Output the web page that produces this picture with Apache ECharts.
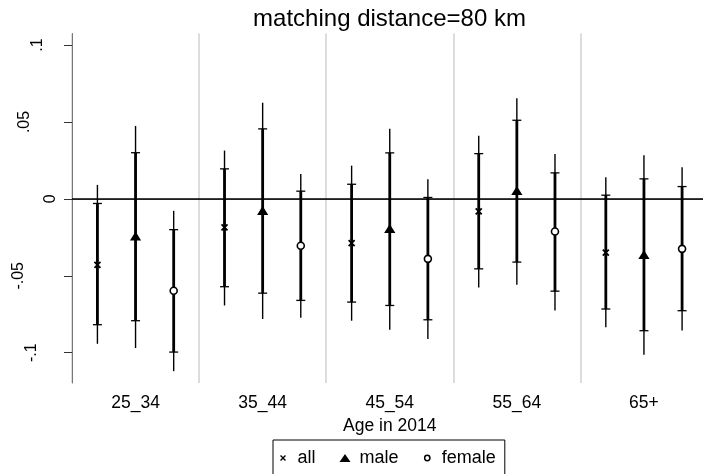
<!DOCTYPE html>
<html><head><meta charset="utf-8">
<script src="https://cdn.jsdelivr.net/npm/echarts@6/dist/echarts.min.js"></script>
<style>html,body{margin:0;padding:0;background:#fff}#c{width:703px;height:474px}</style>
</head><body><div id="c"></div>
<script>
// ---- data ----
const categories = ['25_34', '35_44', '45_54', '55_64', '65+'];
const groupNames = ['all', 'male', 'female'];

const allEst  = [-0.0429, -0.0186, -0.0288, -0.0082, -0.0349];
const allLo90 = [-0.0818, -0.0571, -0.0671, -0.0455, -0.0716];
const allHi90 = [-0.0030,  0.0195,  0.0095,  0.0294,  0.0024];
const allLo95 = [-0.0942, -0.0693, -0.0792, -0.0576, -0.0835];
const allHi95 = [ 0.0091,  0.0314,  0.0216,  0.0411,  0.0141];

const maleEst  = [-0.0243, -0.0078, -0.0195,  0.0052, -0.0364];
const maleLo90 = [-0.0792, -0.0613, -0.0693, -0.0411, -0.0857];
const maleHi90 = [ 0.0300,  0.0455,  0.0299,  0.0511,  0.0130];
const maleLo95 = [-0.0970, -0.0781, -0.0851, -0.0558, -0.1013];
const maleHi95 = [ 0.0474,  0.0625,  0.0455,  0.0654,  0.0284];

const femaleEst  = [-0.0597, -0.0305, -0.0390, -0.0212, -0.0325];
const femaleLo90 = [-0.0996, -0.0660, -0.0786, -0.0600, -0.0727];
const femaleHi90 = [-0.0200,  0.0050,  0.0009,  0.0169,  0.0080];
const femaleLo95 = [-0.1120, -0.0773, -0.0911, -0.0725, -0.0855];
const femaleHi95 = [-0.0078,  0.0162,  0.0128,  0.0292,  0.0206];

const yTickValues = [-0.1, -0.05, 0, 0.05, 0.1];
const yTickLabels = ['-.1', '-.05', '0', '.05', '.1'];
const titleText = 'matching distance=80 km';
const xAxisTitle = 'Age in 2014';

// ---- styling ----
const FONT = '"Liberation Sans", Arial, Helvetica, sans-serif';
const groupOffset = { all: -0.3, male: 0, female: 0.3 };
const yLabelShift = [19, 32, 0, 26, 13];

function makeData(est, lo90, hi90, lo95, hi95) {
  return categories.map((c, i) => [i, lo95[i], lo90[i], est[i], hi90[i], hi95[i]]);
}

function renderFactory(kind) {
  return function (params, api) {
    const i = api.value(0);
    const bw = api.size([1, 0])[0];
    const pE = api.coord([i, api.value(3)]);
    const x = pE[0] + groupOffset[kind] * bw;
    const yy = v => api.coord([i, v])[1];
    const yl95 = yy(api.value(1)), yl90 = yy(api.value(2)), ye = pE[1];
    const yh90 = yy(api.value(4)), yh95 = yy(api.value(5));
    const k = '#000';
    const ch = [
      { type: 'line', shape: { x1: x, y1: yl95, x2: x, y2: yh95 }, style: { stroke: k, lineWidth: 1.4 } },
      { type: 'line', shape: { x1: x, y1: yl90, x2: x, y2: yh90 }, style: { stroke: k, lineWidth: 2.8 } },
      { type: 'line', shape: { x1: x - 4.5, y1: yl90, x2: x + 4.5, y2: yl90 }, style: { stroke: k, lineWidth: 1.3 } },
      { type: 'line', shape: { x1: x - 4.5, y1: yh90, x2: x + 4.5, y2: yh90 }, style: { stroke: k, lineWidth: 1.3 } }
    ];
    if (kind === 'all') {
      const s = 3;
      ch.push({ type: 'line', shape: { x1: x - s, y1: ye - s, x2: x + s, y2: ye + s }, style: { stroke: k, lineWidth: 1.8 } });
      ch.push({ type: 'line', shape: { x1: x - s, y1: ye + s, x2: x + s, y2: ye - s }, style: { stroke: k, lineWidth: 1.8 } });
    } else if (kind === 'male') {
      ch.push({ type: 'polygon', shape: { points: [[x, ye - 4.8], [x + 5.6, ye + 4.2], [x - 5.6, ye + 4.2]] }, style: { fill: k } });
    } else {
      ch.push({ type: 'circle', shape: { cx: x, cy: ye, r: 3.5 }, style: { fill: '#fff', stroke: k, lineWidth: 1.6 } });
    }
    return { type: 'group', children: ch };
  };
}

const xIcon = 'path://M0,0 M10,10 M1.3,2.5 L2.5,1.3 L5,3.8 L7.5,1.3 L8.7,2.5 L6.2,5 L8.7,7.5 L7.5,8.7 L5,6.2 L2.5,8.7 L1.3,7.5 L3.8,5 Z';
const oIcon = 'path://M0,0 M10,10 M1.7,5 A3.3,3.3 0 1,1 8.3,5 A3.3,3.3 0 1,1 1.7,5 Z';

const seriesData = {
  all: makeData(allEst, allLo90, allHi90, allLo95, allHi95),
  male: makeData(maleEst, maleLo90, maleHi90, maleLo95, maleHi95),
  female: makeData(femaleEst, femaleLo90, femaleHi90, femaleLo95, femaleHi95)
};

const rich = {};
yLabelShift.forEach((p, idx) => {
  rich['s' + idx] = { fontSize: 16, fontFamily: FONT, color: '#000', padding: [0, 0, p, 0] };
});

const chart = echarts.init(document.getElementById('c'), null, { renderer: 'canvas' });
const option = {
  backgroundColor: '#fff',
  animation: false,
  title: {
    text: titleText, left: 389.5, top: 7, padding: 0, textAlign: 'center',
    textStyle: { fontFamily: FONT, fontSize: 24, fontWeight: 'normal', color: '#000' }
  },
  grid: { left: 72, top: 33.5, width: 635.5, height: 349.5, outerBoundsMode: 'none', containLabel: false },
  legend: {
    left: 273, top: 440, orient: 'horizontal', padding: [9, 9, 9, 6],
    borderColor: '#000', borderWidth: 1, itemGap: 24, itemWidth: 11, itemHeight: 8,
    selectedMode: false,
    textStyle: { fontFamily: FONT, fontSize: 18, color: '#000', padding: [0, 0, 0, 4] },
    data: [
      { name: 'all', icon: xIcon, itemStyle: { color: '#000', borderWidth: 0 } },
      { name: 'male', icon: 'triangle', itemStyle: { color: '#000', borderWidth: 0 } },
      { name: 'female', icon: oIcon, itemStyle: { color: '#fff', borderColor: '#000', borderWidth: 1.5 } }
    ]
  },
  xAxis: {
    type: 'category', data: categories, boundaryGap: true,
    axisLine: { show: true, lineStyle: { color: '#777', width: 1 } },
    axisTick: { show: true, alignWithLabel: true, length: 5, lineStyle: { color: '#666', width: 1 } },
    axisLabel: { fontFamily: FONT, fontSize: 17.5, color: '#000', margin: 11.5 },
    splitLine: { show: true, lineStyle: { color: '#dcdcdc', width: 2 } },
    name: xAxisTitle, nameLocation: 'middle', nameGap: 29.5,
    nameTextStyle: { fontFamily: FONT, fontSize: 17.5, color: '#000' }
  },
  yAxis: {
    type: 'value', min: -0.1197, max: 0.1075,
    axisLine: { show: true, lineStyle: { color: '#777', width: 1 } },
    axisTick: { show: true, length: 8, customValues: yTickValues, lineStyle: { color: '#333', width: 1 } },
    axisLabel: {
      show: true, rotate: 90, margin: 13, customValues: yTickValues,
      formatter: function (val) {
        let idx = 0, best = Infinity;
        yTickValues.forEach((t, j) => { const d = Math.abs(t - val); if (d < best) { best = d; idx = j; } });
        return '{s' + idx + '|' + yTickLabels[idx] + '}';
      },
      rich: rich
    },
    splitLine: { show: false }
  },
  series: groupNames.map((g) => ({
    type: 'custom', name: g, renderItem: renderFactory(g),
    itemStyle: { color: '#000' },
    encode: { x: 0, y: [1, 2, 3, 4, 5] },
    data: seriesData[g], z: 3
  })).concat([{
    type: 'line', name: 'zero', data: [], z: 2,
    markLine: {
      silent: true, symbol: 'none', animation: false,
      label: { show: false },
      lineStyle: { color: '#000', width: 1.5, type: 'solid' },
      data: [{ yAxis: 0 }]
    }
  }])
};
chart.setOption(option);
</script>
</body></html>
